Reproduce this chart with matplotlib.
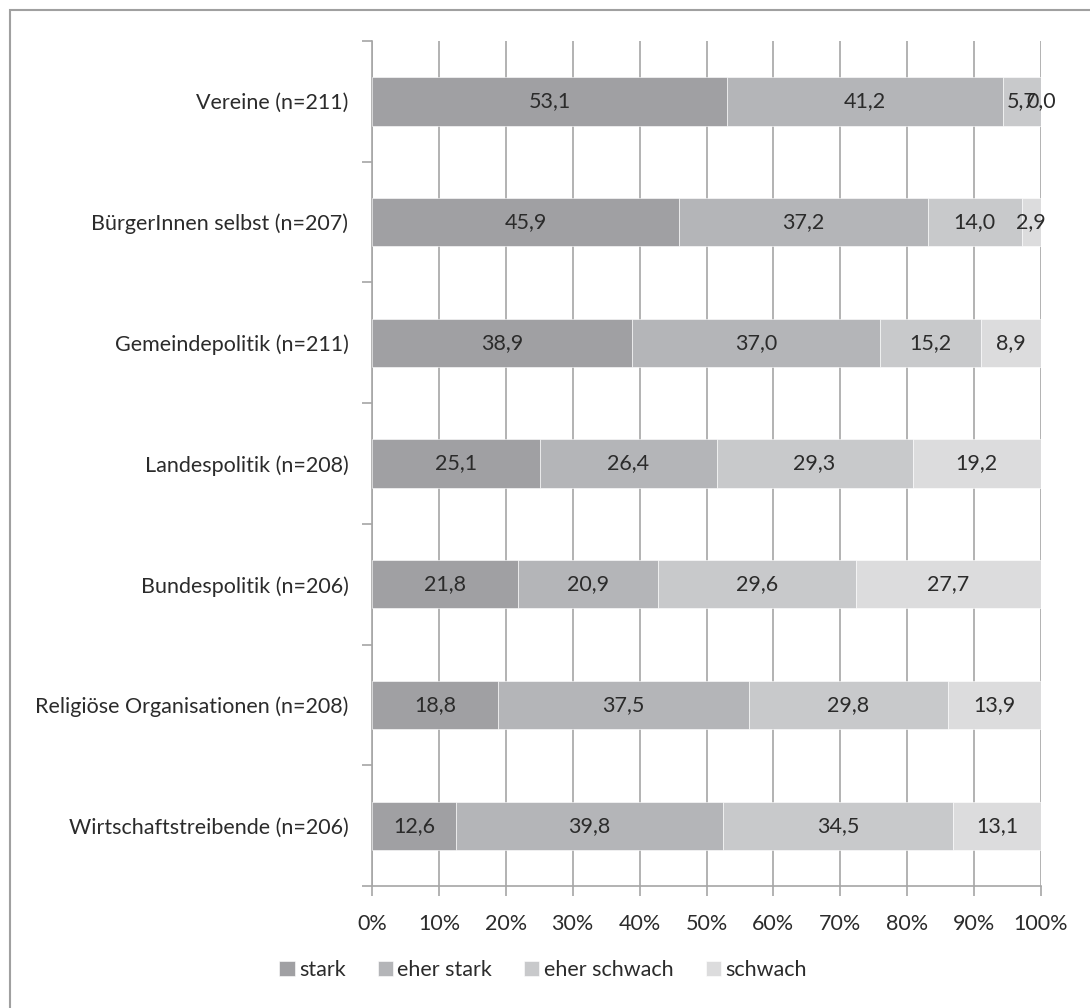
import matplotlib.pyplot as plt
import numpy as np
from matplotlib.patches import Rectangle

# Daten
kategorien = ['Vereine (n=211)', 'BürgerInnen selbst (n=207)', 'Gemeindepolitik (n=211)',
              'Landespolitik (n=208)', 'Bundespolitik (n=206)',
              'Religiöse Organisationen (n=208)', 'Wirtschaftstreibende (n=206)']
serien = ['stark', 'eher stark', 'eher schwach', 'schwach']
stark = [53.1, 45.9, 38.9, 25.1, 21.8, 18.8, 12.6]
eher_stark = [41.2, 37.2, 37.0, 26.4, 20.9, 37.5, 39.8]
eher_schwach = [5.7, 14.0, 15.2, 29.3, 29.6, 29.8, 34.5]
schwach = [0.0, 2.9, 8.9, 19.2, 27.7, 13.9, 13.1]
x_ticks = [0, 10, 20, 30, 40, 50, 60, 70, 80, 90, 100]

farben = ['#a0a0a3', '#b4b5b8', '#c8c9cb', '#dcdcdd']
textfarbe = '#2b2b2b'
linienfarbe = '#a6a6a6'
fs = 15.5

plt.rcParams['font.family'] = ['Lato', 'DejaVu Sans']

fig = plt.figure(figsize=(10.9, 10.08), dpi=100)
ax = fig.add_axes([372/1090, 1-886/1008, (1041-372)/1090, (886-41)/1008])

y = np.arange(len(kategorien))
links = np.zeros(len(kategorien))
for name, werte, farbe in zip(serien, [stark, eher_stark, eher_schwach, schwach], farben):
    werte = np.array(werte)
    ax.barh(y, werte, left=links, height=0.4, color=farbe, label=name,
            edgecolor='white', linewidth=0.4, zorder=3)
    for yi, l, w in zip(y, links, werte):
        ax.text(l + w/2, yi, f'{w:.1f}'.replace('.', ','), ha='center', va='center',
                fontsize=fs, color=textfarbe, zorder=4)
    links = links + werte

ax.set_ylim(len(kategorien) - 0.5, -0.5)
ax.set_xlim(0, 100)
ax.set_yticks(y)
ax.set_yticklabels(kategorien)
ax.set_yticks(np.arange(-0.5, len(kategorien)), minor=True)
ax.tick_params(axis='y', which='major', length=0, pad=17, labelsize=fs, labelcolor=textfarbe)
ax.tick_params(axis='y', which='minor', length=7, width=1.2, color=linienfarbe)
ax.set_xticks(x_ticks)
ax.set_xticklabels([f'{t}%' for t in x_ticks])
ax.tick_params(axis='x', length=7, width=1.2, color=linienfarbe, pad=13,
               labelsize=fs, labelcolor=textfarbe)

ax.grid(axis='x', color=linienfarbe, linewidth=1.2, zorder=0)
ax.set_axisbelow(True)
for s in ['top', 'right']:
    ax.spines[s].set_visible(False)
for s in ['left', 'bottom']:
    ax.spines[s].set_color(linienfarbe)
    ax.spines[s].set_linewidth(1.2)

fig.legend(loc='center', bbox_to_anchor=(543/1090, 1-970/1008), ncol=4, frameon=False,
           fontsize=fs, handlelength=0.7, handleheight=0.7, handletextpad=0.2,
           columnspacing=1.5, labelcolor=textfarbe)

# Rahmen um die Grafik
fig.patches.append(Rectangle((10/1090, -0.1), 1.2, 1-10/1008+0.1, transform=fig.transFigure,
                             fill=False, edgecolor='#a0a0a0', linewidth=1.5))

fig.savefig('out.png', dpi=100)
